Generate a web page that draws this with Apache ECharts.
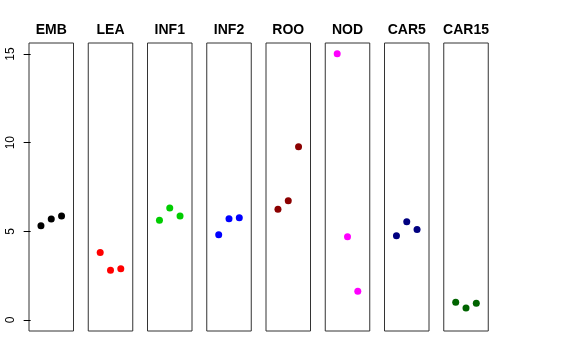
<!DOCTYPE html>
<html><head><meta charset="utf-8">
<script src="https://cdn.jsdelivr.net/npm/echarts@6/dist/echarts.min.js"></script>
<style>html,body{margin:0;padding:0;background:#fff}#c{width:576px;height:360px}</style>
</head><body><div id="c"></div>
<script>
const categories = ['EMB','LEA','INF1','INF2','ROO','NOD','CAR5','CAR15'];
const colors = ['#000000','#FF0000','#00CD00','#0000FF','#8B0000','#FF00FF','#000080','#006400'];
const xPositions = [1, 2, 3];
const EMB = [5.32, 5.70, 5.86];
const LEA = [3.80, 2.80, 2.89];
const INF1 = [5.62, 6.32, 5.86];
const INF2 = [4.81, 5.71, 5.77];
const ROO = [6.24, 6.73, 9.77];
const NOD = [15.02, 4.70, 1.62];
const CAR5 = [4.75, 5.54, 5.11];
const CAR15 = [1.00, 0.68, 0.94];
const values = [EMB, LEA, INF1, INF2, ROO, NOD, CAR5, CAR15];
const yTicks = [0, 5, 10, 15];

const grids = [], xAxes = [], yAxes = [], series = [];
const left0 = 29, step = 59.25, w = 44.5;
categories.forEach((cat, i) => {
  grids.push({left: left0 + i*step, top: 43, width: w, height: 288,
    show: true, borderColor: '#333', borderWidth: 1, backgroundColor: 'transparent'});
  xAxes.push({type: 'value', gridIndex: i, min: -0.16, max: 4.16, position: 'top',
    name: cat, nameLocation: 'middle', nameGap: 6,
    nameTextStyle: {fontFamily: 'Liberation Sans', fontWeight: 'bold', fontSize: 14, color: '#000'},
    axisLine: {show: false}, axisTick: {show: false}, axisLabel: {show: false}, splitLine: {show: false}});
  yAxes.push({type: 'value', gridIndex: i, min: -0.62, max: 15.62,
    axisLine: {show: false},
    axisTick: {show: i === 0, length: 7, customValues: yTicks, lineStyle: {color: '#000'}},
    axisLabel: {show: i === 0, customValues: yTicks, rotate: 90, margin: 12,
      fontFamily: 'Liberation Sans', fontSize: 12, color: '#000'},
    splitLine: {show: false}});
  series.push({type: 'scatter', xAxisIndex: i, yAxisIndex: i, symbol: 'circle', symbolSize: 7,
    itemStyle: {color: colors[i], opacity: 1}, silent: true,
    data: xPositions.map((x, k) => [x, values[i][k]])});
});

const chart = echarts.init(document.getElementById('c'), null, {renderer: 'canvas'});
chart.setOption({animation: false, grid: grids, xAxis: xAxes, yAxis: yAxes, series: series});
</script></body></html>
